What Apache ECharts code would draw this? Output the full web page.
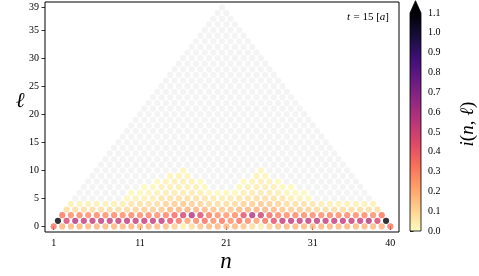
<!DOCTYPE html>
<html><head><meta charset="utf-8">
<script src="https://cdn.jsdelivr.net/npm/echarts@6/dist/echarts.min.js"></script>
<style>html,body{margin:0;padding:0;background:#fff}#c{width:479px;height:276px}</style>
</head><body><div id="c"></div>
<script>
// ---- data: value i(n, l) per row l, points at n = 1 + l/2 + k ----
const nFirst = 1, nLast = 40, ellMax = 39;
const row0 = [0.32,0.18,0.17,0.18,0.17,0.18,0.17,0.18,0.17,0.18,
              0.17,0.18,0.17,0.16,0.12,0.04,0.08,0.14,0.17,0.18,
              0.18,0.17,0.14,0.08,0.04,0.12,0.16,0.17,0.18,0.17,
              0.18,0.17,0.18,0.17,0.18,0.17,0.18,0.17,0.18,0.32];
const row1 = [1.2,0.48,0.58,0.54,0.53,0.55,0.54,0.53,0.55,0.54,
              0.53,0.54,0.55,0.44,0.33,0.22,0.28,0.34,0.26,0.32,
              0.26,0.34,0.28,0.22,0.33,0.44,0.54,0.55,0.53,0.54,
              0.55,0.53,0.54,0.55,0.53,0.54,0.58,0.48,1.2];
const row2 = [0.32,0.27,0.28,0.27,0.28,0.27,0.28,0.27,0.28,0.27,
              0.28,0.27,0.29,0.36,0.49,0.58,0.45,0.31,0.26,0.24,
              0.27,0.43,0.58,0.50,0.36,0.29,0.27,0.28,0.27,0.28,
              0.27,0.28,0.27,0.28,0.27,0.28,0.27,0.32];
const row3 = [0.08,0.08,0.08,0.08,0.08,0.08,0.08,0.09,
              0.11,0.12,0.12,0.13,
              0.17,0.18,0.19,0.18,0.17,
              0.14,0.13,0.14,
              0.17,0.18,0.19,0.18,0.17,
              0.13,0.12,0.12,0.11,
              0.09,0.08,0.08,0.08,0.08,0.08,0.08,0.08];
const row4 = [0.03,0.03,0.03,0.03,0.03,0.035,0.04,
              0.06,0.07,0.07,0.08,
              0.11,0.12,0.13,0.12,0.11,
              0.09,0.08,0.08,0.09,
              0.11,0.12,0.13,0.12,0.11,
              0.08,0.07,0.07,0.06,
              0.04,0.035,0.03,0.03,0.03,0.03,0.03];
const row5 = [0,0,0,0,0,0,
              0.02,0.03,0.03,0.04,
              0.06,0.07,0.08,0.08,0.07,0.06,
              0.05,0.04,0.05,
              0.06,0.07,0.08,0.08,0.07,0.06,
              0.04,0.03,0.02,
              0,0,0,0,0,0,0];
const row6 = [0,0,0,0,0,0,
              0.015,0.02,0.025,0.03,
              0.04,0.05,0.05,0.05,0.04,
              0.02,0.015,0.015,0.02,
              0.04,0.05,0.05,0.05,0.04,
              0.025,0.02,0.015,
              0,0,0,0,0,0,0];
const row7 = [0,0,0,0,0,0,0,
              0.015,0.02,0.03,
              0.035,0.04,0.04,0.035,
              0.02,
              0,0,0,
              0.02,
              0.035,0.04,0.04,0.035,
              0.02,0.015,
              0,0,0,0,0,0,0,0];
const row8 = [0,0,0,0,0,0,0,0,
              0.015,
              0.03,0.035,0.035,0.03,
              0.015,
              0,0,0,0,
              0.015,
              0.03,0.035,0.03,
              0.015,
              0,0,0,0,0,0,0,0,0];
const row9 = [0,0,0,0,0,0,0,0,0,
              0.025,0.03,0.025,
              0,0,0,0,0,0,0,
              0.03,0.025,
              0,0,0,0,0,0,0,0,0,0];
const row10 = [0,0,0,0,0,0,0,0,0,0,
               0.025,
               0,0,0,0,0,0,0,0,
               0.025,
               0,0,0,0,0,0,0,0,0,0];
const rows = [row0,row1,row2,row3,row4,row5,row6,row7,row8,row9,row10]; // rows above are zero

const xTicks = [1, 11, 21, 31, 40];
const yTicks = [0, 5, 10, 15, 20, 25, 30, 35, 39];
const vMin = 0, vMax = 1.1;

// ---- magma colormap ----
const magmaStops = ['#000004','#140e36','#3b0f70','#641a80','#8c2981','#b73779','#de4968','#f7705c','#fe9f6d','#fecf92','#fcfdbf'];
const mRgb = magmaStops.map(h => [parseInt(h.slice(1,3),16), parseInt(h.slice(3,5),16), parseInt(h.slice(5,7),16)]);
function magma(f) {
  f = Math.max(0, Math.min(1, f));
  const s = f * 10, i = Math.min(9, Math.floor(s)), t = s - i;
  const a = mRgb[i], b = mRgb[i+1];
  return 'rgb(' + a.map((c, j) => Math.round(c + (b[j]-c)*t)).join(',') + ')';
}
function colorFor(v) {
  if (v === 0) return '#f1f1f1';
  if (v > vMax) return '#000004';
  return magma(1 - (v - vMin) / (vMax - vMin));
}

const points = [];
for (let l = 0; l <= ellMax; l++) {
  const cnt = nLast - nFirst + 1 - l;
  for (let k = 0; k < cnt; k++) {
    const v = (rows[l] && rows[l][k] !== undefined) ? rows[l][k] : 0;
    points.push([nFirst + l/2 + k, l, v]);
  }
}

const FONT = '"Liberation Serif", "DejaVu Serif", serif';
const chart = echarts.init(document.getElementById('c'), null, {renderer: 'canvas'});
chart.setOption({
  animation: false,
  backgroundColor: '#fff',
  grid: [
    {left: 45, right: 80, top: 2, bottom: 44, show: true, borderColor: '#000', borderWidth: 1, backgroundColor: 'transparent'},
    {left: 410, width: 11, top: 13, bottom: 45}
  ],
  xAxis: [
    {type: 'value', gridIndex: 0, min: 0, max: 41,
     axisLine: {show: false}, splitLine: {show: false},
     axisTick: {show: true, customValues: xTicks, length: 3.5, lineStyle: {color: '#000', width: 0.8}},
     axisLabel: {customValues: xTicks, color: '#000', fontFamily: FONT, fontSize: 10, margin: 6}},
    {type: 'value', gridIndex: 1, min: 0, max: 1, show: false}
  ],
  yAxis: [
    {type: 'value', gridIndex: 0, min: -1, max: 40,
     axisLine: {show: false}, splitLine: {show: false},
     axisTick: {show: true, customValues: yTicks, length: 3.5, lineStyle: {color: '#000', width: 0.8}},
     axisLabel: {customValues: yTicks, color: '#000', fontFamily: FONT, fontSize: 10, margin: 6}},
    {type: 'value', gridIndex: 1, position: 'right', min: vMin, max: vMax, interval: 0.1,
     axisLine: {show: false}, splitLine: {show: false},
     axisTick: {show: true, length: 3.5, lineStyle: {color: '#000', width: 0.8}},
     axisLabel: {color: '#000', fontFamily: FONT, fontSize: 10, margin: 7,
                 formatter: v => v.toFixed(1)}}
  ],
  series: [
    {type: 'scatter', xAxisIndex: 0, yAxisIndex: 0, data: points, symbol: 'circle', symbolSize: 6.2,
     silent: true,
     itemStyle: {color: p => colorFor(p.value[2])}},
    {type: 'custom', xAxisIndex: 1, yAxisIndex: 1, data: [[0, 0]], silent: true,
     renderItem: (params, api) => {
       const bl = api.coord([0, vMin]), tr = api.coord([1, vMax]);
       const apex = api.coord([0.5, vMax + 0.062]);
       const stops = magmaStops.map((c, i) => ({offset: i/10, color: c}));
       return {type: 'group', children: [
         {type: 'rect', shape: {x: bl[0], y: tr[1], width: tr[0]-bl[0], height: bl[1]-tr[1]},
          style: {fill: {type: 'linear', x: 0, y: 0, x2: 0, y2: 1, colorStops: stops}}},
         {type: 'polygon', shape: {points: [[bl[0], tr[1]], [tr[0], tr[1]], apex]},
          style: {fill: '#000004'}},
         {type: 'polygon', shape: {points: [[bl[0], bl[1]], [bl[0], tr[1]], apex, [tr[0], tr[1]], [tr[0], bl[1]]]},
          style: {fill: 'none', stroke: '#000', lineWidth: 0.8}}
       ]};
     }}
  ],
  graphic: [
    {type: 'text', x: 20, y: 101, style: {text: 'ℓ', font: 'italic 21px ' + FONT, fill: '#000', textAlign: 'center', textVerticalAlign: 'middle'}},
    {type: 'text', x: 226, y: 262, style: {text: 'n', font: 'italic 23px ' + FONT, fill: '#000', textAlign: 'center', textVerticalAlign: 'middle'}},
    {type: 'text', x: 368, y: 17, style: {
      text: '{i|t} {r|= 15 [}{i|a}{r|]}', textAlign: 'center', textVerticalAlign: 'middle',
      rich: {i: {fontFamily: FONT, fontStyle: 'italic', fontSize: 11, fill: '#000'},
             r: {fontFamily: FONT, fontSize: 11, fill: '#000'}}}},
    {type: 'text', x: 468, y: 124, rotation: Math.PI/2, style: {
      text: '{i|i}{r|(}{i|n}{r|, }{i|ℓ}{r|)}', textAlign: 'center', textVerticalAlign: 'middle',
      rich: {i: {fontFamily: FONT, fontStyle: 'italic', fontSize: 19, fill: '#000'},
             r: {fontFamily: FONT, fontSize: 19, fill: '#000'}}}}
  ]
});
</script></body></html>
